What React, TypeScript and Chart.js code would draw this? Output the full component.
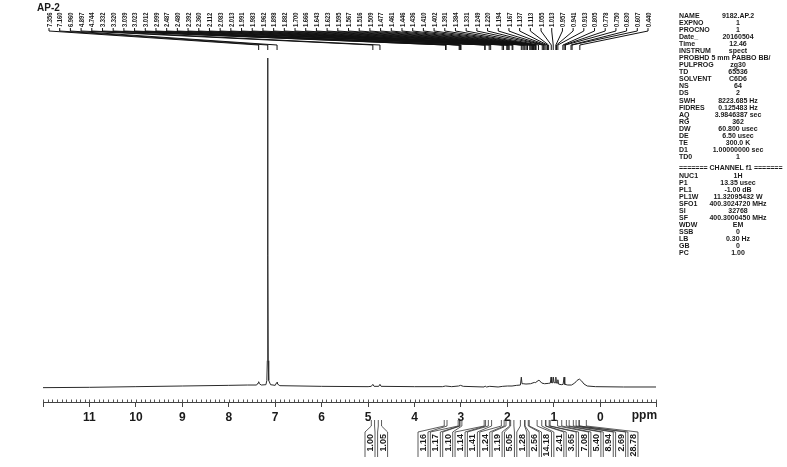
import { useEffect, useRef } from "react";
import { Chart, registerables } from "chart.js";

Chart.register(...registerables);

const title = "AP-2";

// spectrum points (ppm, relative intensity)
const spectrumPpm = [
  12.0, 11.0, 10.0, 9.0, 8.0, 7.6, 7.4, 7.37, 7.356, 7.34, 7.3, 7.2, 7.18, 7.17, 7.165, 7.16, 7.155, 7.15, 7.14,
  7.1, 7.0, 6.97, 6.96, 6.95, 6.9, 6.0, 5.0, 4.93, 4.897, 4.87, 4.77, 4.744, 4.72, 4.0, 3.4, 3.33, 3.2, 3.05,
  3.01, 2.95, 2.5, 2.48, 2.45, 2.38, 2.2, 2.1, 2.0, 1.9, 1.8, 1.72, 1.7, 1.685, 1.66, 1.6, 1.5, 1.42, 1.4, 1.32,
  1.26, 1.2, 1.12, 1.075, 1.06, 1.045, 1.02, 1.01, 0.995, 0.97, 0.957, 0.945, 0.925, 0.913, 0.9, 0.84, 0.8,
  0.78, 0.765, 0.7, 0.62, 0.55, 0.5, 0.45, 0.4, 0.35, 0.28, 0.1, -0.5, -1.2,
];
const spectrumIntensity = [
  -0.2, -0.1, 0.1, 0.3, 0.5, 0.6, 0.6, 1.2, 1.6, 1.0, 0.6, 0.7, 2.0, 8, 40, 100, 40, 8, 2.0,
  0.7, 0.5, 1.3, 1.4, 0.9, 0.4, 0.2, 0.1, 0.2, 0.8, 0.2, 0.2, 0.8, 0.2, 0.1, 0.1, 0.3, 0.1, 0.3,
  0.5, 0.2, 0.0, 0.3, 0.0, 0.2, 0.0, 0.2, 0.3, 0.3, 0.5, 0.6, 3.0, 1.0, 1.0, 0.9, 1.0, 1.4, 1.3, 2.1,
  1.2, 1.0, 1.1, 1.2, 3.0, 1.3, 1.3, 3.0, 1.3, 1.3, 3.0, 1.2, 1.2, 2.2, 0.9, 0.7, 0.8,
  3.0, 0.8, 0.6, 0.6, 1.2, 2.0, 2.4, 1.8, 0.9, 0.3, 0.1, 0.0, 0.0,
];

const peakLabels = [
  7.356, 7.16, 6.96, 4.897, 4.744, 3.332, 3.32, 3.039, 3.023, 3.012, 2.999, 2.487, 2.48, 2.392, 2.36, 2.112,
  2.083, 2.013, 1.991, 1.983, 1.962, 1.898, 1.882, 1.7, 1.666, 1.643, 1.623, 1.595, 1.567, 1.516, 1.509, 1.477,
  1.461, 1.446, 1.436, 1.41, 1.402, 1.391, 1.384, 1.331, 1.249, 1.22, 1.194, 1.167, 1.137, 1.113, 1.055, 1.013,
  0.957, 0.941, 0.913, 0.805, 0.778, 0.75, 0.63, 0.607, 0.44,
];

const integralValues = [
  "1.00", "1.05", "1.16", "1.17", "1.10", "1.14", "1.41", "1.24", "1.19", "5.05", "1.28", "2.56", "14.18",
  "2.41", "3.65", "7.08", "5.40", "8.94", "2.69", "28.78",
];
const integralFrom = [
  4.93, 4.78, 3.36, 3.06, 3.02, 2.5, 2.41, 2.13, 2.03, 1.93, 1.72, 1.62, 1.53, 1.26, 1.17, 1.08, 0.83, 0.67, 0.52, 0.45,
];
const integralTo = [
  4.86, 4.71, 3.3, 3.03, 2.98, 2.47, 2.34, 2.07, 1.95, 1.86, 1.63, 1.55, 1.36, 1.18, 1.1, 0.92, 0.73, 0.58, 0.46, 0.3,
];

const paramNames = [
  "NAME", "EXPNO", "PROCNO", "Date_", "Time", "INSTRUM", "PROBHD", "PULPROG", "TD", "SOLVENT", "NS", "DS",
  "SWH", "FIDRES", "AQ", "RG", "DW", "DE", "TE", "D1", "TD0",
];
const paramValues = [
  "9182.AP.2", "1", "1", "20160504", "12.46", "spect", "5 mm PABBO BB/", "zg30", "65536", "C6D6", "64", "2",
  "8223.685 Hz", "0.125483 Hz", "3.9846387 sec", "362", "60.800 usec", "6.50 usec", "300.0 K",
  "1.00000000 sec", "1",
];
const channelHeader = "======= CHANNEL f1 =======";
const channelNames = ["NUC1", "P1", "PL1", "PL1W", "SFO1", "SI", "SF", "WDW", "SSB", "LB", "GB", "PC"];
const channelValues = [
  "1H", "13.35 usec", "-1.00 dB", "11.32095432 W", "400.3024720 MHz", "32768", "400.3000450 MHz", "EM",
  "0", "0.30 Hz", "0", "1.00",
];

const FONT = '"Liberation Sans", Arial, sans-serif';
const INK = "#1a1a1a";

const decorPlugin = {
  id: "nmrDecor",
  afterDraw(chart: any) {
    const ctx = chart.ctx as CanvasRenderingContext2D;
    const xs = chart.scales.x;
    const area = chart.chartArea;
    ctx.save();
    ctx.fillStyle = INK;
    ctx.strokeStyle = INK;

    // title
    ctx.font = `bold 10px ${FONT}`;
    ctx.textBaseline = "middle";
    ctx.textAlign = "left";
    ctx.fillText(title, 37, 8);

    // peak labels with fan lines
    const n = peakLabels.length;
    const lx0 = 49;
    const lx1 = 648;
    ctx.font = `bold 8px ${FONT}`;
    ctx.lineWidth = 1;
    ctx.strokeStyle = "#111";
    for (let i = 0; i < n; i++) {
      const lx = lx0 + (i * (lx1 - lx0)) / (n - 1);
      const px = xs.getPixelForValue(peakLabels[i]);
      ctx.save();
      ctx.translate(lx + 0.5, 27);
      ctx.rotate(-Math.PI / 2);
      ctx.scale(0.72, 1);
      ctx.textAlign = "left";
      ctx.textBaseline = "middle";
      ctx.fillText(peakLabels[i].toFixed(3), 0, 0);
      ctx.restore();
      ctx.beginPath();
      ctx.moveTo(lx, 28);
      ctx.lineTo(lx, 31);
      ctx.lineTo(px, 45);
      ctx.lineTo(px, 50);
      ctx.stroke();
    }

    // minor ticks
    ctx.lineWidth = 1;
    ctx.strokeStyle = "#555";
    for (let k = -12; k <= 120; k++) {
      const x = Math.round(xs.getPixelForValue(k / 10)) + 0.5;
      ctx.beginPath();
      ctx.moveTo(x, area.bottom);
      ctx.lineTo(x, area.bottom - 2.5);
      ctx.stroke();
    }

    // ppm label
    ctx.fillStyle = INK;
    ctx.font = `bold 12px ${FONT}`;
    ctx.textAlign = "center";
    ctx.textBaseline = "middle";
    ctx.fillText("ppm", xs.getPixelForValue(-0.95), 416);

    // integrals
    ctx.strokeStyle = "#333";
    ctx.lineWidth = 0.8;
    ctx.font = `bold 9px ${FONT}`;
    for (let i = 0; i < integralValues.length; i++) {
      const cx = i < 2 ? 370 + i * 12.6 : 423 + (i - 2) * 12.35;
      const a = xs.getPixelForValue(integralFrom[i]);
      const b = xs.getPixelForValue(integralTo[i]);
      const bl = cx - 5;
      const br = cx + 5;
      ctx.beginPath();
      ctx.moveTo(a, 420);
      ctx.lineTo(a, 426);
      ctx.lineTo(bl, 432);
      ctx.lineTo(bl, 457);
      ctx.moveTo(b, 420);
      ctx.lineTo(b, 426);
      ctx.lineTo(br, 432);
      ctx.lineTo(br, 457);
      ctx.stroke();
      ctx.save();
      ctx.translate(cx + 0.5, 434);
      ctx.rotate(-Math.PI / 2);
      ctx.textAlign = "right";
      ctx.textBaseline = "middle";
      ctx.fillText(integralValues[i], 0, 0);
      ctx.restore();
    }

    // parameter panel
    ctx.font = `bold 7px ${FONT}`;
    ctx.textBaseline = "middle";
    for (let i = 0; i < paramNames.length; i++) {
      const y = 16 + i * 7.05;
      ctx.textAlign = "left";
      ctx.fillText(paramNames[i], 679, y);
      ctx.textAlign = "center";
      ctx.fillText(paramValues[i], i === 6 ? 741 : 738, y);
    }
    ctx.textAlign = "left";
    ctx.fillText(channelHeader, 679, 168);
    for (let i = 0; i < channelNames.length; i++) {
      const y = 176 + i * 7.0;
      ctx.textAlign = "left";
      ctx.fillText(channelNames[i], 679, y);
      ctx.textAlign = "center";
      ctx.fillText(channelValues[i], 738, y);
    }
    ctx.restore();
  },
};

export default function App() {
  const ref = useRef<HTMLCanvasElement | null>(null);
  useEffect(() => {
    if (!ref.current) return;
    const chart = new Chart(ref.current, {
      type: "line",
      data: {
        datasets: [
          {
            data: spectrumPpm.map((x, i) => ({ x, y: spectrumIntensity[i] })),
            borderColor: "#2a2a2a",
            borderWidth: 1,
            pointRadius: 0,
            tension: 0,
            fill: false,
          },
        ],
      },
      options: {
        responsive: false,
        animation: false,
        devicePixelRatio: 1,
        layout: { padding: { left: 43, right: 131, top: 58, bottom: 0 } },
        plugins: { legend: { display: false }, tooltip: { enabled: false }, title: { display: false } },
        scales: {
          x: {
            type: "linear",
            reverse: true,
            min: -1.2,
            max: 12,
            border: { display: true, color: "#444", width: 1 },
            grid: { display: true, drawOnChartArea: false, drawTicks: true, tickLength: 5, tickColor: "#444" },
            ticks: {
              stepSize: 1,
              autoSkip: false,
              maxRotation: 0,
              padding: 3,
              color: INK,
              font: { family: FONT, size: 12, weight: "bold" },
              callback: (v: any) => {
                const n = Number(v);
                if (n > 11.5 || n < -0.5) return "";
                if (Math.abs(n - Math.round(n)) > 1e-6) return "";
                return String(Math.round(n));
              },
            },
            afterFit: (scale: any) => {
              scale.height = 65;
            },
          },
          y: {
            display: false,
            min: -4.56,
            max: 100,
          },
        },
      },
      plugins: [decorPlugin],
    } as any);
    return () => chart.destroy();
  }, []);
  return (
    <div style={{ position: "absolute", left: 0, top: 0, width: 787, height: 467, background: "#fff" }}>
      <canvas ref={ref} width={787} height={467} style={{ display: "block" }} />
    </div>
  );
}
